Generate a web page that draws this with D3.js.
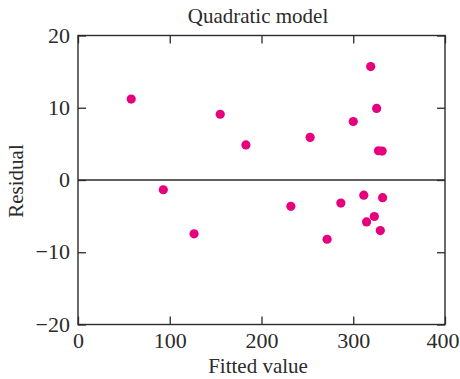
<!DOCTYPE html>
<html><head><meta charset="utf-8">
<script src="https://cdn.jsdelivr.net/npm/d3@7"></script>
<style>body{margin:0;background:#fff}svg{display:block}</style>
</head><body>
<svg id="c" width="460" height="379"></svg>
<script>
const fitted   = [58, 155, 183, 253, 300, 319, 325.5, 327.5, 331.5, 93, 126.5, 232, 271.5, 286.5, 311.5, 314.5, 323, 329.5, 332];
const residual = [11.2, 9.1, 4.85, 5.9, 8.1, 15.7, 9.9, 4.05, 4.0, -1.35, -7.45, -3.65, -8.2, -3.2, -2.1, -5.8, -5.05, -7.0, -2.45];
const xTicks = [0, 100, 200, 300, 400];
const yTicks = [-20, -10, 0, 10, 20];
const title = "Quadratic model", xLabel = "Fitted value", yLabel = "Residual";

const svg = d3.select("#c");
const L = 78, R = 445, T = 35.5, B = 324.5;
const x = d3.scaleLinear().domain([0, 400]).range([L, R]);
const y = d3.scaleLinear().domain([-20, 20]).range([B, T]);
const font = "'Liberation Serif','Times New Roman',serif";
const ink = "#2b2b2b";

// zero line
svg.append("line").attr("x1", L).attr("x2", R).attr("y1", y(0)).attr("y2", y(0))
  .attr("stroke", ink).attr("stroke-width", 1.3);

// frame
svg.append("rect").attr("x", L).attr("y", T).attr("width", R - L).attr("height", B - T)
  .attr("fill", "none").attr("stroke", ink).attr("stroke-width", 1.4);

const fmt = d => d < 0 ? "\u2212" + Math.abs(d) : String(d);
const tl = 8;
const ax = svg.append("g").attr("transform", `translate(0,${B})`)
  .call(d3.axisBottom(x).tickValues(xTicks).tickSizeInner(-tl).tickSizeOuter(0).tickFormat(fmt));
const axT = svg.append("g").attr("transform", `translate(0,${T})`)
  .call(d3.axisTop(x).tickValues(xTicks).tickSizeInner(-tl).tickSizeOuter(0).tickFormat(""));
const ay = svg.append("g").attr("transform", `translate(${L},0)`)
  .call(d3.axisLeft(y).tickValues(yTicks).tickSizeInner(-tl).tickSizeOuter(0).tickFormat(fmt));
const ayR = svg.append("g").attr("transform", `translate(${R},0)`)
  .call(d3.axisRight(y).tickValues(yTicks).tickSizeInner(-tl).tickSizeOuter(0).tickFormat(""));

[ax, axT, ay, ayR].forEach(g => {
  g.select(".domain").remove();
  g.selectAll("line").attr("stroke", ink).attr("stroke-width", 1.3);
  g.selectAll("text").attr("fill", ink).style("font-family", font).style("font-size", "22px");
});
ax.selectAll("text").attr("dy", null).attr("y", 23);
// keep the last label inside the picture, as in the reference
ax.selectAll("text").filter(d => d === xTicks[xTicks.length - 1])
  .attr("text-anchor", "end").attr("x", 14);
ay.selectAll("text").attr("dy", "0.3em").attr("x", -8);

// points
svg.append("g").selectAll("circle").data(fitted).join("circle")
  .attr("cx", d => x(d)).attr("cy", (d, i) => y(residual[i])).attr("r", 4.6)
  .attr("fill", "#e6007e");

// labels
svg.append("text").attr("x", 258).attr("y", 23).attr("text-anchor", "middle")
  .style("font-family", font).style("font-size", "21px").attr("fill", ink).text(title);
svg.append("text").attr("x", 258).attr("y", 373).attr("text-anchor", "middle")
  .style("font-family", font).style("font-size", "21px").attr("fill", ink).text(xLabel);
svg.append("text").attr("transform", "translate(23,181) rotate(-90)").attr("text-anchor", "middle")
  .style("font-family", font).style("font-size", "21px").attr("fill", ink).text(yLabel);
</script>
</body></html>
